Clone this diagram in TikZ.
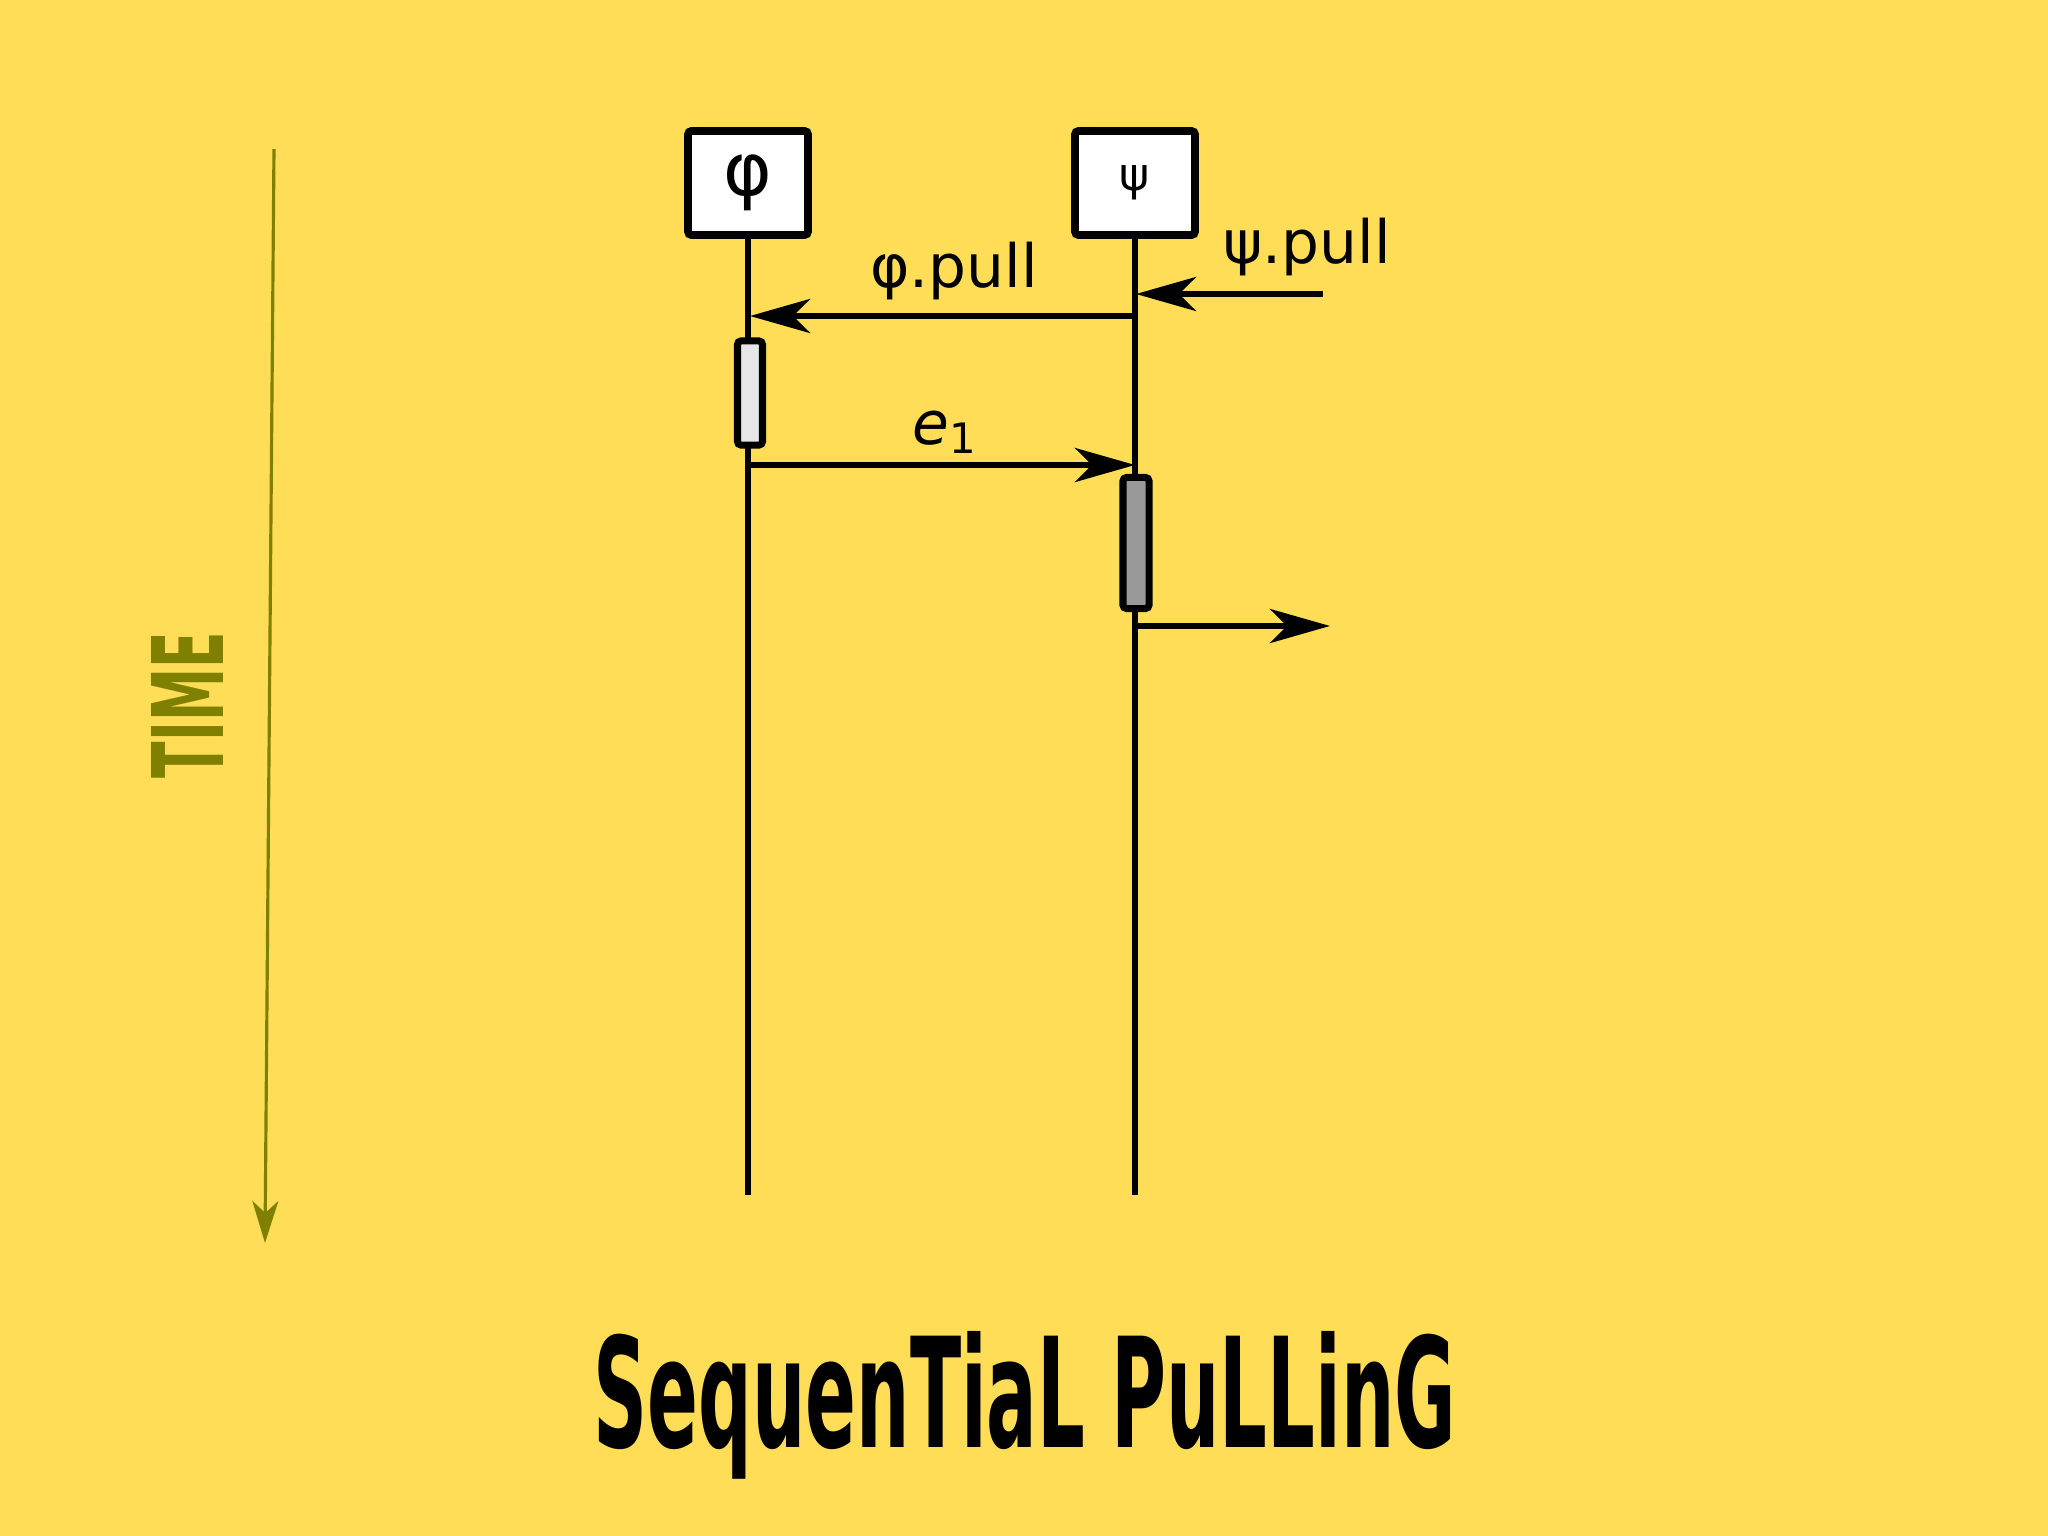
\documentclass[tikz,border=0pt]{standalone}
\usepackage{fontspec}
\setmainfont{DejaVu Sans}
\usetikzlibrary{arrows.meta}
\definecolor{bgyellow}{HTML}{FFDD57}
\definecolor{timeolive}{HTML}{808000}
\definecolor{actlight}{HTML}{E6E6E6}
\definecolor{actdark}{HTML}{999999}

\begin{document}
\begin{tikzpicture}[x=0.01cm,y=-0.01cm,
    objbox/.style={draw,line width=2.2pt,fill=white,minimum width=1.2cm,minimum height=1.04cm,inner sep=0pt,rounded corners=1pt},
    lifeline/.style={line width=1.8pt},
    actbox/.style={draw,line width=2pt,minimum width=0.25cm,inner sep=0pt,rounded corners=1pt},
    msg/.style={line width=1.8pt,-{Stealth[length=0.6cm,width=0.34cm,inset=0.17cm]}},
    lbl/.style={font=\fontsize{17}{20}\selectfont,inner sep=0pt}]
    \useasboundingbox[fill=bgyellow] (0,0) rectangle (2048,1536);
    % time axis
    \coordinate (tstart) at (274,149);
    \coordinate (tend) at (265,1243);
    \draw[timeolive,line width=0.9pt,-{Stealth[length=0.42cm,width=0.26cm,inset=0.12cm]}] (tstart) -- (tend);
    \node[timeolive,rotate=90] (time) at (187,705) {\resizebox{1.46cm}{0.72cm}{\bfseries TIME}};
    % objects and lifelines
    \node[objbox,font=\fontsize{21}{24}\selectfont] (phi) at (748,183) {φ};
    \node[objbox,font=\fontsize{13}{15}\selectfont] (psi) at (1135,183) {ψ};
    \coordinate (phiend) at (748,1195);
    \coordinate (psiend) at (1135,1195);
    \draw[lifeline] (phi.south) -- (phiend);
    \draw[lifeline] (psi.south) -- (psiend);
    % activations
    \node[actbox,fill=actlight,minimum height=1.04cm] (phiact) at (750,393) {};
    \node[actbox,fill=actdark,minimum height=1.31cm,minimum width=0.26cm] (psiact) at (1136,543) {};
    % messages
    \coordinate (pullin) at (1323,294);
    \coordinate (psi0) at (1136,294);
    \coordinate (psi1) at (1135,316);
    \coordinate (phi1) at (750,316);
    \coordinate (phi2) at (748,465);
    \coordinate (psi2) at (1135,465);
    \coordinate (psi3) at (1135,626);
    \coordinate (out) at (1330,626);
    \draw[msg] (pullin) -- (psi0) node[lbl,pos=0.085,above=0.15cm] (psipull) {ψ.pull};
    \draw[msg] (psi1) -- (phi1) node[lbl,pos=0.47,above=0.13cm] (phipull) {φ.pull};
    \draw[msg] (phi2) -- (psi2) node[lbl,pos=0.51,above=0.08cm] (ev) {\textit{e}\textsubscript{1}};
    \draw[msg] (psi3) -- (out);
    % title
    \node[anchor=base,inner sep=0pt] (title) at (1025,1447) {\resizebox{8.62cm}{1.16cm}{\bfseries SequenTiaL PuLLinG}};
\end{tikzpicture}
\end{document}
